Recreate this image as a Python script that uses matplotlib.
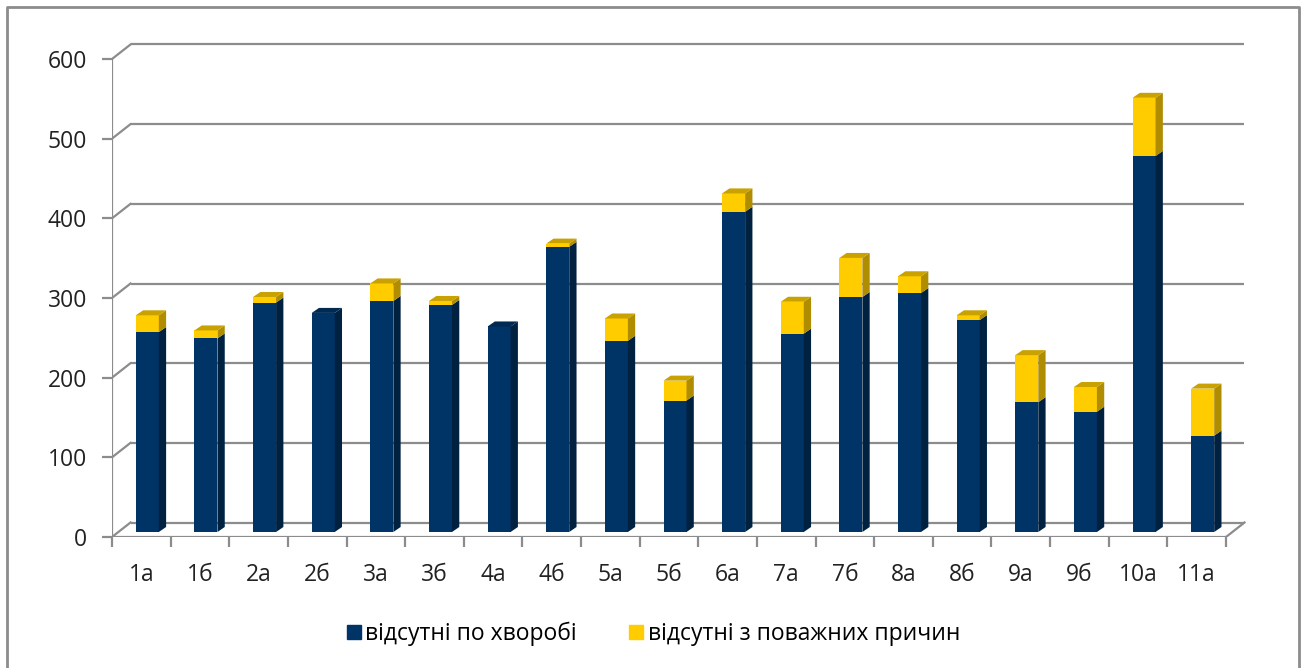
import numpy as np
import matplotlib.pyplot as plt
from matplotlib.patches import Polygon, Patch

# дані: класи та кількість пропусків
classes = ['1а', '1б', '2а', '2б', '3а', '3б', '4а', '4б', '5а', '5б',
           '6а', '7а', '7б', '8а', '8б', '9а', '9б', '10а', '11а']
sick = [251, 243, 288, 275, 290, 285, 258, 358, 240, 165,
        402, 249, 295, 300, 266, 163, 151, 472, 121]
other = [21, 10, 7, 0, 22, 5, 0, 4, 28, 25,
         23, 40, 49, 21, 6, 59, 31, 73, 59]
yticks = [0, 100, 200, 300, 400, 500, 600]
labels = ['відсутні по хворобі', 'відсутні з поважних причин']

navy = '#003366'
navy_side = '#00213f'
navy_top = '#002a52'
gold = '#ffcc00'
gold_side = '#b08c00'
gold_top = '#c9a100'
grid_c = '#8c8c8c'

plt.rcParams['font.family'] = ['Open Sans', 'DejaVu Sans']
fs = 16.5

W, H = 1307, 668
fig = plt.figure(figsize=(W / 100, H / 100), dpi=100)
left_px, right_px, bottom_px, top_px = 112, 1246, 537, 30
ax = fig.add_axes([left_px / W, 1 - bottom_px / H,
                   (right_px - left_px) / W, (bottom_px - top_px) / H])

n = len(classes)
cat_px = (1226 - left_px) / n
val_px = (bottom_px - 59) / max(yticks)
ax.set_xlim(-0.5, -0.5 + (right_px - left_px) / cat_px)
ax.set_ylim(0, (bottom_px - top_px) / val_px)


def off(dx, dy):
    # зсув у пікселях -> одиниці даних
    return dx / cat_px, dy / val_px


wall_dx, wall_dy = off(18.5, 14.5)
bar_dx, bar_dy = off(6, 5)
side_dx, side_dy = off(7.3, 5)
bar_w = 23 / cat_px

# задня стінка, сітка і підлога
x0, x1 = -0.5, n - 0.5
for v in yticks:
    ax.plot([x0 + wall_dx, x1 + wall_dx], [v + wall_dy, v + wall_dy],
            color=grid_c, lw=1.6, zorder=1, solid_capstyle='butt')
    ax.plot([x0, x0 + wall_dx], [v, v + wall_dy], color=grid_c, lw=1.6, zorder=1)
ax.plot([x0, x1], [0, 0], color=grid_c, lw=1.6, zorder=1)
ax.plot([x1, x1 + wall_dx], [0, wall_dy], color=grid_c, lw=1.6, zorder=1)
ax.plot([x0, x0], [0, max(yticks)], color=grid_c, lw=1.6, zorder=1)

x = np.arange(n) + bar_dx
sick = np.array(sick)
other = np.array(other)
ax.bar(x, sick, width=bar_w, bottom=bar_dy, color=navy, zorder=3)
ax.bar(x, other, width=bar_w, bottom=bar_dy + sick, color=gold, zorder=3)

# бічні та верхні грані
for i in range(n):
    xr = x[i] + bar_w / 2
    xl = x[i] - bar_w / 2
    segs = [(bar_dy, bar_dy + sick[i], navy_side)]
    if other[i] > 0:
        segs.append((bar_dy + sick[i], bar_dy + sick[i] + other[i], gold_side))
    for b, t, c in segs:
        ax.add_patch(Polygon([(xr, b), (xr + side_dx, b + side_dy),
                              (xr + side_dx, t + side_dy), (xr, t)],
                             closed=True, color=c, lw=0, zorder=3))
    top = bar_dy + sick[i] + other[i]
    tc = gold_top if other[i] > 0 else navy_top
    ax.add_patch(Polygon([(xl, top), (xr, top), (xr + side_dx, top + side_dy),
                          (xl + side_dx, top + side_dy)],
                         closed=True, color=tc, lw=0, zorder=3))

for s in ax.spines.values():
    s.set_visible(False)
ax.set_yticks(yticks)
ax.tick_params(axis='y', length=7, width=1.6, color=grid_c, pad=11,
               labelsize=fs, labelcolor='#222222')
ax.set_xticks(range(n))
ax.set_xticklabels(classes)
ax.set_xticks(np.arange(-0.5, n, 1), minor=True)
ax.tick_params(axis='x', which='major', length=0, pad=19,
               labelsize=fs, labelcolor='#222222')
ax.tick_params(axis='x', which='minor', length=7, width=1.6, color=grid_c)

# рамка
fig.add_artist(plt.Line2D([7 / W, 7 / W, 1299 / W, 1299 / W],
                          [0, 1 - 7 / H, 1 - 7 / H, 0],
                          transform=fig.transFigure, color=grid_c, lw=2))

handles = [Patch(color=navy), Patch(color=gold)]
fig.legend(handles, labels, loc='center', bbox_to_anchor=(0.5, 1 - 634 / H),
           ncol=2, frameon=False, fontsize=fs, handlelength=0.6,
           handleheight=0.6, handletextpad=0.2, columnspacing=2.3)

fig.savefig('out.png', dpi=100)
